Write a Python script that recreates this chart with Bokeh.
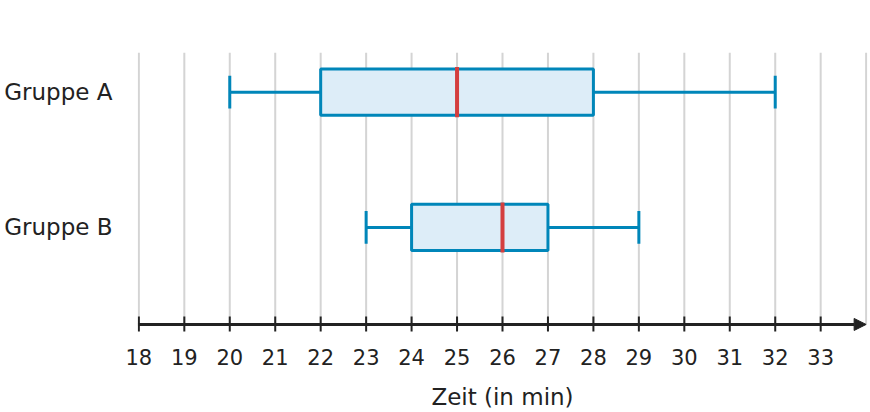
from bokeh.plotting import figure
from bokeh.models import (Range1d, LinearAxis, FixedTicker, Arrow, NormalHead,
                          ColumnDataSource)
from bokeh.transform import dodge
from bokeh.embed import file_html
from bokeh.resources import INLINE

# ---- data ----
groups = ["Gruppe A", "Gruppe B"]
minimum = [20, 23]
q1 = [22, 24]
median = [25, 26]
q3 = [28, 27]
maximum = [32, 29]
x_ticks = list(range(18, 34))
grid_ticks = list(range(18, 35))
x_label = "Zeit (in min)"

# ---- styles ----
BLUE = "#0086b9"
FILL = "#ddedf8"
RED = "#d43f3f"
GRID = "#d4d4d4"
INK = "#222222"
FONT = "DejaVu Sans"

# ---- layout (data units on y: one group step = 1) ----
X0, X1 = 17.97, 34.03
Y_TOP = 1.293
Y_AXIS = -0.717          # where the arrow axis line sits
Y_BOT = -0.806           # frame bottom (a little below the axis line)
PX = 134.8               # pixels per y unit

ypos = [len(groups) - 1 - i for i in range(len(groups))]

p = figure(width=870, height=412,
           x_range=Range1d(X0, X1), y_range=Range1d(Y_BOT, Y_TOP),
           output_backend="svg", toolbar_location=None,
           x_axis_location=None, y_axis_location=None,
           min_border_left=137, min_border_right=3,
           min_border_top=52, min_border_bottom=20)
p.outline_line_color = None
p.background_fill_color = "white"
p.border_fill_color = "white"
p.xgrid.visible = False
p.ygrid.visible = False

# vertical grid lines, from the axis line up to the top of the frame
grid_src = ColumnDataSource(dict(x=grid_ticks))
p.segment(x0="x", y0=Y_AXIS, x1="x", y1=Y_TOP, source=grid_src,
          line_color=GRID, line_width=2)

# axis: labels + title only (line, ticks and arrow drawn below)
xaxis = LinearAxis(ticker=FixedTicker(ticks=x_ticks), axis_label=x_label,
                   axis_line_color=None,
                   major_tick_in=0, major_tick_out=0,
                   major_tick_line_color=None,
                   minor_tick_line_color=None,
                   major_label_text_font_size="21px",
                   major_label_text_color=INK,
                   major_label_text_font=FONT,
                   major_label_standoff=12,
                   axis_label_text_font_size="23px",
                   axis_label_text_font_style="normal",
                   axis_label_text_font=FONT,
                   axis_label_text_color=INK,
                   axis_label_standoff=16)
p.add_layout(xaxis, "below")

yaxis = LinearAxis(ticker=FixedTicker(ticks=ypos),
                   major_label_overrides={y: g for y, g in zip(ypos, groups)},
                   axis_line_color=None, major_tick_line_color=None,
                   minor_tick_line_color=None,
                   major_label_text_font_size="23px",
                   major_label_text_font=FONT,
                   major_label_text_color=INK,
                   major_label_standoff=19)
p.add_layout(yaxis, "left")

# axis line with arrow head
p.add_layout(Arrow(end=NormalHead(size=12, fill_color=INK, line_color=INK, line_width=1),
                   x_start=X0 + 0.01, x_end=34, y_start=Y_AXIS, y_end=Y_AXIS,
                   line_color=INK, line_width=3))

# tick marks crossing the axis line
tick_src = ColumnDataSource(dict(x=x_ticks))
p.segment(x0="x", y0=Y_AXIS - 7 / PX, x1="x", y1=Y_AXIS + 8 / PX, source=tick_src,
          line_color=INK, line_width=2)

src = ColumnDataSource(dict(y=ypos, mn=minimum, q1=q1, med=median, q3=q3, mx=maximum))

p.segment(x0="mn", y0="y", x1="q1", y1="y", source=src, line_color=BLUE, line_width=3)
p.segment(x0="q3", y0="y", x1="mx", y1="y", source=src, line_color=BLUE, line_width=3)
p.hbar(y="y", height=0.342, left="q1", right="q3", source=src,
       fill_color=FILL, line_color=BLUE, line_width=3)
p.segment(x0="med", y0=dodge("y", -0.185), x1="med", y1=dodge("y", 0.185),
          source=src, line_color=RED, line_width=4)
p.segment(x0="mn", y0=dodge("y", -0.121), x1="mn", y1=dodge("y", 0.121),
          source=src, line_color=BLUE, line_width=3)
p.segment(x0="mx", y0=dodge("y", -0.121), x1="mx", y1=dodge("y", 0.121),
          source=src, line_color=BLUE, line_width=3)

open("out.html", "w").write(file_html(p, INLINE))
